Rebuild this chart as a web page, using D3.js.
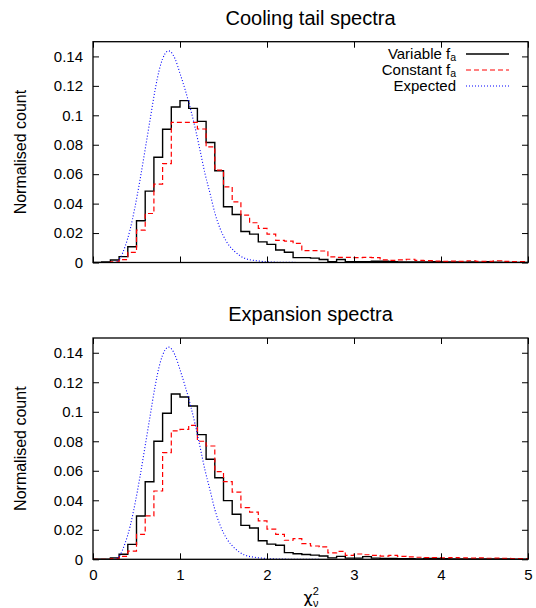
<!DOCTYPE html>
<head>
<meta charset="utf-8">
<title>Cooling tail and expansion spectra</title>
<script src="https://cdn.jsdelivr.net/npm/d3@7"></script>
<style>
  body { margin: 0; background: #fff; }
  text { font-family: "Liberation Sans", Arial, sans-serif; fill: #000; }
  .axis path { display: none; }
  .axis line { stroke: #000; stroke-width: 1; }
  .axis text { font-size: 15px; }
</style>
</head>
<body>
<div id="vis-canvas"></div>
<script>
//----------------------------DATA-------------------------------//
// lower edge of each 0.1 wide chi2 bin
var binLo = [0.0, 0.1, 0.2, 0.3, 0.4, 0.5, 0.6, 0.7, 0.8, 0.9,
             1.0, 1.1, 1.2, 1.3, 1.4, 1.5, 1.6, 1.7, 1.8, 1.9,
             2.0, 2.1, 2.2, 2.3, 2.4, 2.5, 2.6, 2.7, 2.8, 2.9,
             3.0, 3.1, 3.2, 3.3, 3.4, 3.5, 3.6, 3.7, 3.8, 3.9,
             4.0, 4.1, 4.2, 4.3, 4.4, 4.5, 4.6, 4.7, 4.8, 4.9];
var binHi = 5;

// cooling tail, variable f_a
var tailVariable = [0, 0.0003, 0.0017, 0.004, 0.0107, 0.0284, 0.0485, 0.0715, 0.0905, 0.1056,
                    0.110, 0.1047, 0.0959, 0.0815, 0.0623, 0.0379, 0.0326, 0.0211, 0.0193, 0.014,
                    0.0123, 0.0085, 0.007, 0.0033, 0.0033, 0.003, 0.002, 0.0006, 0.002, 0.0006,
                    0.0005, 0.0005, 0.0008, 0.0008, 0.0005, 0.0004, 0.0004, 0.0003, 0.0003, 0.0005,
                    0.0004, 0.0003, 0.0002, 0.0003, 0.0002, 0.0005, 0.0002, 0.0001, 0.0001, 0.0001];
// cooling tail, constant f_a
var tailConstant = [0, 0, 0.0005, 0.002, 0.0069, 0.022, 0.0333, 0.0532, 0.0672, 0.0952,
                    0.0952, 0.0952, 0.0907, 0.0785, 0.0627, 0.0514, 0.0412, 0.0322, 0.027, 0.0232,
                    0.0193, 0.015, 0.0145, 0.013, 0.008, 0.008, 0.0078, 0.0038, 0.0035, 0.0035,
                    0.0033, 0.0035, 0.0033, 0.0018, 0.0015, 0.0018, 0.0022, 0.0015, 0.0013, 0.001,
                    0.0008, 0.001, 0.0008, 0.0012, 0.0008, 0.0008, 0.0012, 0.0008, 0.0006, 0.0006];
// expansion, variable f_a
var expVariable = [0, 0, 0.001, 0.0034, 0.0101, 0.0294, 0.0526, 0.080, 0.099, 0.112,
                   0.110, 0.1039, 0.0845, 0.0678, 0.0553, 0.0398, 0.0305, 0.023, 0.0212, 0.0126,
                   0.0103, 0.0095, 0.0045, 0.0038, 0.0033, 0.0028, 0.0022, 0.001, 0.002, 0.0008,
                   0.0008, 0.0018, 0.0008, 0.0006, 0.0005, 0.0004, 0.0004, 0.0003, 0.0005, 0.0006,
                   0.0004, 0.0003, 0.0003, 0.0002, 0.0002, 0.0002, 0.0003, 0.0002, 0.0001, 0.0001];
// expansion, constant f_a
var expConstant = [0, 0, 0.0004, 0.002, 0.0056, 0.0169, 0.0294, 0.0463, 0.0723, 0.087,
                   0.088, 0.0908, 0.080, 0.0768, 0.0594, 0.0526, 0.0456, 0.035, 0.032, 0.026,
                   0.0205, 0.0169, 0.0129, 0.014, 0.0106, 0.009, 0.0084, 0.0043, 0.0054, 0.0027,
                   0.0036, 0.0031, 0.0027, 0.0022, 0.0027, 0.002, 0.0016, 0.0014, 0.0012, 0.0011,
                   0.001, 0.0012, 0.0009, 0.0008, 0.0009, 0.0007, 0.0008, 0.0006, 0.0005, 0.0005];

// expected curve (same in both panels)
var expectedX = [0.25, 0.31, 0.368, 0.425, 0.483, 0.54, 0.598, 0.655, 0.713, 0.77,
                 0.828, 0.87, 0.943, 1.0, 1.115, 1.172, 1.23, 1.287, 1.345, 1.402,
                 1.46, 1.536, 1.632, 1.747, 1.88, 2.0, 2.2, 2.6];
var expectedY = [0, 0.0028, 0.0107, 0.022, 0.0378, 0.056, 0.0763, 0.0966, 0.117, 0.1328,
                 0.1418, 0.1438, 0.1384, 0.1285, 0.1056, 0.092, 0.0763, 0.0605, 0.047, 0.0334,
                 0.0232, 0.0141, 0.0073, 0.0028, 0.0012, 0.0005, 0.0001, 0];

var xTicks = [0, 1, 2, 3, 4, 5];
var yTicks = [0, 0.02, 0.04, 0.06, 0.08, 0.1, 0.12, 0.14];
var yTickLabels = ["0", "0.02", "0.04", "0.06", "0.08", "0.1", "0.12", "0.14"];

var panelTitles = ["Cooling tail spectra", "Expansion spectra"];

//--------------------------SVG----------------------------------//
var W = 536, H = 608;
var left = 93, right = 528;
var panels = [
  {title: panelTitles[0], top: 41.7, bottom: 262.5, variable: tailVariable, constant: tailConstant, legend: true, xLabels: false},
  {title: panelTitles[1], top: 338, bottom: 559.3, variable: expVariable, constant: expConstant, legend: false, xLabels: true}
];

var svg = d3.select("#vis-canvas").append("svg")
    .attr("width", W)
    .attr("height", H);

var xScale = d3.scaleLinear().domain([0, 5]).range([left, right]);

function stepPoints(values) {
  var pts = binLo.map(function(b, i) { return [b, values[i]]; });
  pts.push([binHi, values[values.length - 1]]);
  return pts;
}

var expected = expectedX.map(function(x, i) { return [x, expectedY[i]]; });

var styles = {
  variable: {stroke: "#000", width: 1.4, dash: null},
  constant: {stroke: "#f00", width: 1.2, dash: "5,3"},
  expected: {stroke: "#00f", width: 1.1, dash: "1,2"}
};

//------------------------DRAWING--------------------------------//
panels.forEach(function(p, k) {
  var yScale = d3.scaleLinear().domain([0, 0.15]).range([p.bottom, p.top]);
  var g = svg.append("g");

  var clipId = "clip" + k;
  g.append("clipPath").attr("id", clipId)
    .append("rect")
    .attr("x", left).attr("y", p.top)
    .attr("width", right - left).attr("height", p.bottom - p.top);

  var step = d3.line()
      .x(function(d) { return xScale(d[0]); })
      .y(function(d) { return yScale(d[1]); })
      .curve(d3.curveStepAfter);
  var smooth = d3.line()
      .x(function(d) { return xScale(d[0]); })
      .y(function(d) { return yScale(d[1]); })
      .curve(d3.curveMonotoneX);

  var plot = g.append("g").attr("clip-path", "url(#" + clipId + ")");

  plot.append("path")
    .attr("d", step(stepPoints(p.variable)))
    .attr("fill", "none")
    .attr("stroke", styles.variable.stroke)
    .attr("stroke-width", styles.variable.width);

  plot.append("path")
    .attr("d", step(stepPoints(p.constant)))
    .attr("fill", "none")
    .attr("stroke", styles.constant.stroke)
    .attr("stroke-width", styles.constant.width)
    .attr("stroke-dasharray", styles.constant.dash);

  plot.append("path")
    .attr("d", smooth(expected))
    .attr("fill", "none")
    .attr("stroke", styles.expected.stroke)
    .attr("stroke-width", styles.expected.width)
    .attr("stroke-dasharray", styles.expected.dash);

  // axes, ticks pointing inwards on all four sides
  g.append("g")
    .attr("class", "axis")
    .attr("transform", "translate(" + left + ",0)")
    .call(d3.axisLeft(yScale).tickValues(yTicks)
      .tickFormat(function(d, i) { return yTickLabels[i]; })
      .tickSize(-6).tickPadding(10));

  g.append("g")
    .attr("class", "axis")
    .attr("transform", "translate(" + right + ",0)")
    .call(d3.axisRight(yScale).tickValues(yTicks).tickFormat("").tickSize(-6));

  g.append("g")
    .attr("class", "axis")
    .attr("transform", "translate(0," + p.bottom + ")")
    .call(d3.axisBottom(xScale).tickValues(xTicks)
      .tickFormat(p.xLabels ? d3.format("d") : "")
      .tickSize(-6).tickPadding(10));

  g.append("g")
    .attr("class", "axis")
    .attr("transform", "translate(0," + p.top + ")")
    .call(d3.axisTop(xScale).tickValues(xTicks).tickFormat("").tickSize(-6));

  g.append("rect")
    .attr("x", left).attr("y", p.top)
    .attr("width", right - left).attr("height", p.bottom - p.top)
    .attr("fill", "none")
    .attr("stroke", "#000")
    .attr("stroke-width", 1.3);

  // title
  g.append("text")
    .attr("x", (left + right) / 2)
    .attr("y", p.top - 17)
    .attr("text-anchor", "middle")
    .style("font-size", "20px")
    .text(p.title);

  // y label
  g.append("text")
    .attr("transform", "translate(26," + ((p.top + p.bottom) / 2) + ") rotate(-90)")
    .attr("text-anchor", "middle")
    .style("font-size", "16px")
    .text("Normalised count");

  //--------------------------LEGEND-----------------------------//
  if (p.legend) {
    var rows = [
      {name: "Variable f", sub: "a", s: styles.variable},
      {name: "Constant f", sub: "a", s: styles.constant},
      {name: "Expected", sub: null, s: styles.expected}
    ];
    rows.forEach(function(r, i) {
      var base = 59 + i * 16;
      var t = g.append("text")
        .attr("x", 456)
        .attr("y", base)
        .attr("text-anchor", "end")
        .style("font-size", "15px");
      t.append("tspan").text(r.name);
      if (r.sub) {
        t.append("tspan").attr("dy", 2).style("font-size", "10.5px").text(r.sub);
      }
      g.append("line")
        .attr("x1", 466).attr("x2", 509)
        .attr("y1", base - 5).attr("y2", base - 5)
        .attr("stroke", r.s.stroke)
        .attr("stroke-width", r.s.width)
        .attr("stroke-dasharray", r.s.dash);
    });
  }
});

// x label: reduced chi square
var xl = svg.append("text")
  .attr("x", xScale(2.5) - 7)
  .attr("y", 603)
  .style("font-size", "16px");
xl.append("tspan").style("font-family", "'DejaVu Sans', sans-serif").text("\u03c7");
xl.append("tspan").attr("dy", -8).style("font-size", "11px").text("2");
xl.append("tspan").attr("dx", -6).attr("dy", 12).style("font-size", "11px").text("\u03bd");
</script>
</div>
</body>
